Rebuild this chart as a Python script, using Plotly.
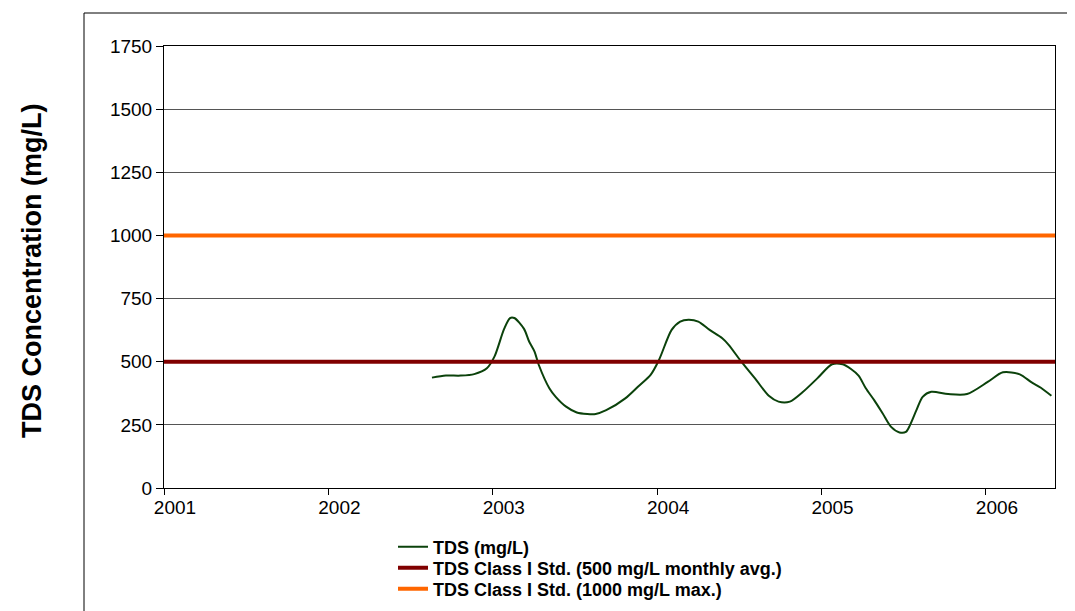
import plotly.graph_objects as go

# TDS readings (decimal year, mg/L)
tds_year = [2002.63, 2002.715, 2002.805, 2002.887, 2002.964, 2003.010, 2003.069, 2003.105,
            2003.131, 2003.190, 2003.221, 2003.254, 2003.280, 2003.344, 2003.383, 2003.446,
            2003.511, 2003.575, 2003.626, 2003.690, 2003.806, 2003.883, 2003.960, 2004.011,
            2004.088, 2004.140, 2004.191, 2004.250, 2004.319, 2004.396, 2004.435, 2004.512,
            2004.602, 2004.679, 2004.738, 2004.807, 2004.884, 2004.974, 2005.064, 2005.128,
            2005.179, 2005.225, 2005.269, 2005.320, 2005.372, 2005.423, 2005.474, 2005.513,
            2005.538, 2005.577, 2005.615, 2005.667, 2005.770, 2005.885, 2006.013, 2006.103,
            2006.206, 2006.278, 2006.334, 2006.398]
tds_vals = [437, 445, 445, 451, 474, 520, 630, 673,
            673, 630, 580, 540, 487, 395, 361, 322,
            299, 293, 293, 308, 355, 401, 448, 507,
            626, 659, 666, 659, 626, 593, 567, 500,
            428, 365, 342, 342, 379, 434, 490, 490,
            471, 445, 395, 348, 295, 242, 220, 222,
            249, 308, 361, 381, 372, 372, 421, 458,
            450, 418, 397, 365]

std_x = [2001.0, 2006.42]
std_500 = [500, 500]
std_1000 = [1000, 1000]

year_ticks = [2001, 2002, 2003, 2004, 2005, 2006]
year_labels = ["2001", "2002", "2003", "2004", "2005", "2006"]

series_names = ["TDS (mg/L)",
                "TDS Class I Std. (500 mg/L monthly avg.)",
                "TDS Class I Std. (1000 mg/L max.)"]

FONT = "Liberation Sans, Arial, sans-serif"

fig = go.Figure()
fig.add_trace(go.Scatter(x=tds_year, y=tds_vals, mode="lines", name="<b>%s</b>" % series_names[0],
                         legend="legend",
                         line=dict(color="#0B420B", width=2, shape="spline", smoothing=0.8)))
fig.add_trace(go.Scatter(x=std_x, y=std_500, mode="lines", name="<b>%s</b>" % series_names[1],
                         legend="legend2",
                         line=dict(color="#800000", width=4)))
fig.add_trace(go.Scatter(x=std_x, y=std_1000, mode="lines", name="<b>%s</b>" % series_names[2],
                         legend="legend3",
                         line=dict(color="#FF6600", width=4)))

L, R, T, B = 156, 28, 38, 131
W, H = 1075, 611
pw, ph = W - L - R, H - T - B

def leg(ycenter):
    return dict(x=(385 - L) / pw, y=(480 - ycenter) / ph, xanchor="left", yanchor="middle",
                font=dict(size=18, color="black", family=FONT),
                bgcolor="rgba(0,0,0,0)", borderwidth=0)

fig.update_layout(
    width=W, height=H,
    margin=dict(l=L, r=R, t=T, b=B),
    paper_bgcolor="white", plot_bgcolor="white",
    font=dict(family=FONT, size=19, color="black"),
    showlegend=True,
    legend=leg(539), legend2=leg(560), legend3=leg(581),
    xaxis=dict(range=[std_x[0], std_x[1]], tickvals=year_ticks, ticktext=year_labels,
               showgrid=False, zeroline=False, showline=True, linecolor="black", linewidth=1,
               mirror=True, ticks="outside", ticklen=6, tickcolor="black",
               tickfont=dict(size=19), ticklabelshift=11, ticklabelstandoff=-4),
    yaxis=dict(range=[0, 1750], dtick=250, tick0=0, showgrid=True, gridcolor="#555555",
               gridwidth=1, zeroline=False, showline=True, linecolor="black", linewidth=1,
               mirror=True, ticks="outside", ticklen=7, tickcolor="black",
               tickfont=dict(size=19)),
    annotations=[dict(text="<b>TDS Concentration (mg/L)</b>", textangle=-90,
                      xref="paper", yref="paper", x=(24 - L) / pw, y=(480 - 263) / ph,
                      xanchor="center", yanchor="middle", showarrow=False,
                      font=dict(size=27, family=FONT, color="black"))],
    shapes=[dict(type="rect", xref="paper", yref="paper",
                 x0=(76 - L) / pw, x1=1.5, y0=-1.0, y1=(480 - 5) / ph,
                 line=dict(color="black", width=1), fillcolor="rgba(0,0,0,0)", layer="below")],
)

fig.write_html("out.html")
